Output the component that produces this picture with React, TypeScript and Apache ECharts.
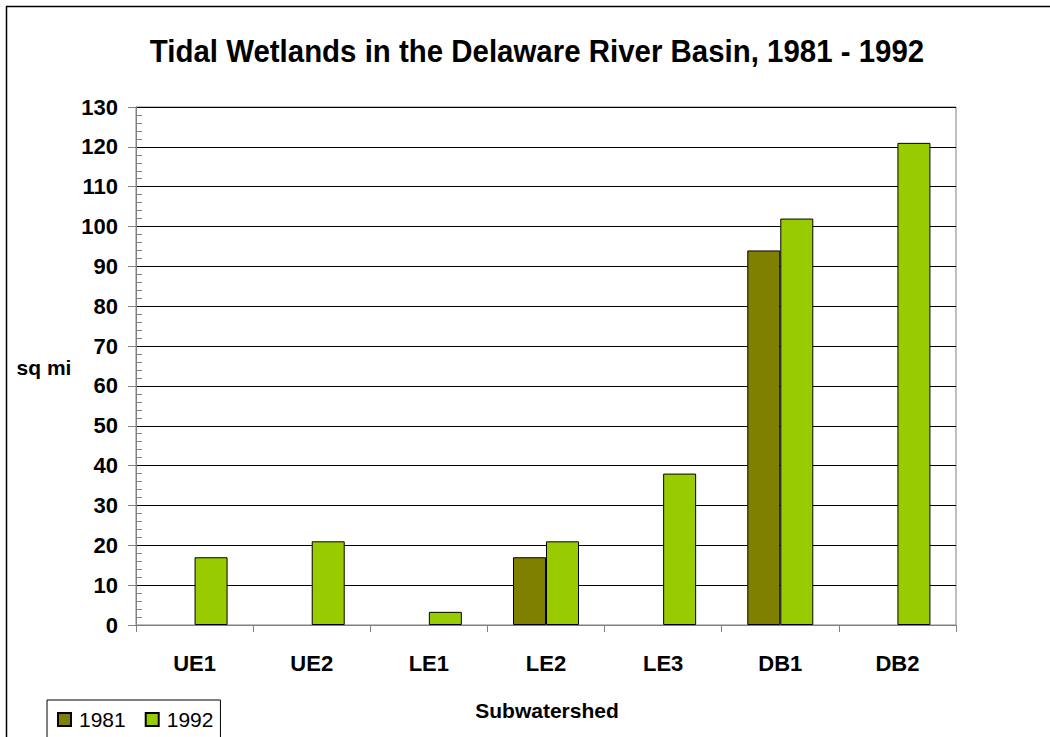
import React, { useEffect, useRef } from "react";
import * as echarts from "echarts";

const categories = ["UE1", "UE2", "LE1", "LE2", "LE3", "DB1", "DB2"];
const values1981 = [null, null, null, 17, null, 94, null];
const values1992 = [17, 21, 3.3, 21, 38, 102, 121];
const seriesNames = ["1981", "1992"];
const titleText = "Tidal Wetlands in the Delaware River Basin, 1981 - 1992";

const FONT = "'Liberation Sans', Arial, sans-serif";

export default function App() {
  const ref = useRef<HTMLDivElement>(null);
  useEffect(() => {
    if (!ref.current) return;
    const chart = echarts.init(ref.current, undefined, { renderer: "svg" });
    const yCommon = {
      type: "value" as const,
      min: 0,
      max: 130,
      interval: 10,
      position: "left" as const,
    };
    chart.setOption({
      animation: false,
      backgroundColor: "#ffffff",
      textStyle: { fontFamily: FONT },
      graphic: [
        {
          type: "rect",
          shape: { x: 6.5, y: 6.5, width: 1100, height: 800 },
          style: { fill: "none", stroke: "#000", lineWidth: 1.5 },
          silent: true,
        },
        {
          type: "text",
          x: 537,
          y: 51,
          scaleX: 0.95,
          style: {
            text: titleText,
            font: `bold 31px ${FONT}`,
            fill: "#000",
            textAlign: "center",
            textVerticalAlign: "middle",
          },
        },
        {
          type: "text",
          x: 44,
          y: 367,
          style: {
            text: "sq mi",
            font: `bold 21px ${FONT}`,
            fill: "#000",
            textAlign: "center",
            textVerticalAlign: "middle",
          },
        },
        {
          type: "text",
          x: 547,
          y: 710,
          style: {
            text: "Subwatershed",
            font: `bold 21px ${FONT}`,
            fill: "#000",
            textAlign: "center",
            textVerticalAlign: "middle",
          },
        },
      ],
      grid: {
        left: 136,
        right: 94,
        top: 107,
        bottom: 112,
        show: true,
        borderColor: "#808080",
        borderWidth: 1,
        backgroundColor: "transparent",
      },
      legend: {
        left: 47,
        top: 700,
        orient: "horizontal",
        padding: [9, 7, 9, 10],
        itemWidth: 13,
        itemHeight: 13,
        itemGap: 19,
        borderColor: "#000",
        borderWidth: 1,
        icon: "rect",
        textStyle: {
          fontFamily: FONT,
          fontSize: 21,
          color: "#000",
          padding: [0, 0, 0, 3],
        },
        data: seriesNames,
      },
      xAxis: {
        type: "category",
        data: categories,
        axisLine: { lineStyle: { color: "#808080", width: 1 } },
        axisTick: { show: true, length: 7, lineStyle: { color: "#808080" } },
        axisLabel: {
          fontFamily: FONT,
          fontSize: 22,
          fontWeight: "bold",
          color: "#000",
          margin: 27,
        },
        splitLine: { show: false },
      },
      yAxis: [
        {
          ...yCommon,
          axisLine: { show: true, lineStyle: { color: "#808080", width: 1 } },
          axisTick: { show: true, length: 8, lineStyle: { color: "#808080" } },
          axisLabel: {
            fontFamily: FONT,
            fontSize: 22,
            fontWeight: "bold",
            color: "#000",
            margin: 18,
          },
          splitLine: { show: true, lineStyle: { color: "#000", width: 1 } },
        },
        {
          ...yCommon,
          axisLine: { show: false },
          axisTick: { show: false, inside: true },
          axisLabel: { show: false },
          splitLine: { show: false },
          minorTick: {
            show: true,
            splitNumber: 5,
            length: 6,
            lineStyle: { color: "#808080", width: 1 },
          },
        },
      ],
      series: [
        {
          name: seriesNames[0],
          type: "bar",
          data: values1981,
          barWidth: 33,
          barGap: "0%",
          itemStyle: { color: "#808000", borderColor: "#000", borderWidth: 1 },
        },
        {
          name: seriesNames[1],
          type: "bar",
          data: values1992,
          barWidth: 33,
          barGap: "0%",
          itemStyle: { color: "#99CC00", borderColor: "#000", borderWidth: 1 },
        },
      ],
    });
    return () => chart.dispose();
  }, []);
  return (
    <div
      ref={ref}
      style={{ position: "fixed", left: 0, top: 0, width: 1050, height: 737 }}
    />
  );
}
